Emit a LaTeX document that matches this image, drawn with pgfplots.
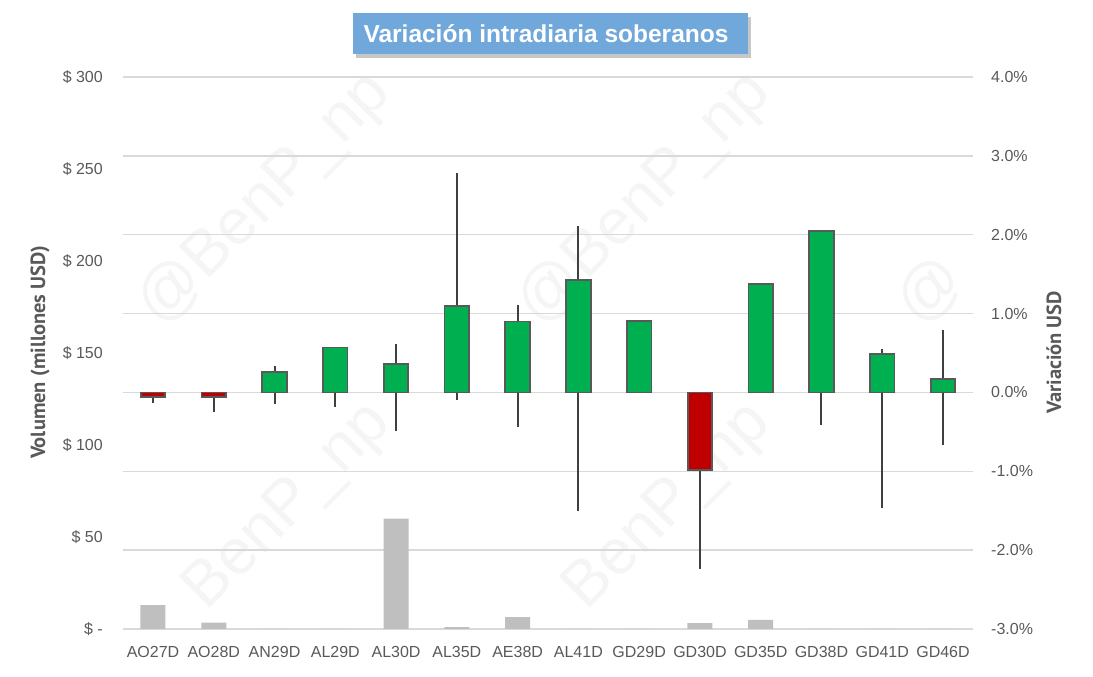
\documentclass[border=0pt]{standalone}
\usepackage{fontspec}
\setmainfont{Liberation Sans}
\newfontfamily\condfont{PT Sans}
\usepackage{pgfplots}
\pgfplotsset{compat=1.18}
\usepackage{pgfplotstable}
\definecolor{tickgray}{HTML}{595959}
\definecolor{gridgray}{HTML}{D9D9D9}
\definecolor{volgray}{HTML}{BFBFBF}
\definecolor{upgreen}{HTML}{00B050}
\definecolor{downred}{HTML}{C00000}
\definecolor{boxedge}{HTML}{595959}
\definecolor{wick}{HTML}{404040}
\definecolor{titleblue}{HTML}{70A8DC}

\pgfplotstableread{
x close high low vol
0 -0.06 0 -0.14 13
1 -0.06 0 -0.25 3.5
2 0.26 0.33 -0.15 0
3 0.57 0.57 -0.19 0
4 0.36 0.61 -0.49 60
5 1.10 2.78 -0.09 1
6 0.90 1.11 -0.44 6.5
7 1.43 2.11 -1.50 0
8 0.91 0.91 0 0
9 -0.98 0 -2.24 3.2
10 1.37 1.39 0 4.9
11 2.05 2.05 -0.41 0
12 0.49 0.55 -1.46 0
13 0.17 0.79 -0.67 0
}\data

\begin{document}
\begin{tikzpicture}
\useasboundingbox (-122.6pt,-48pt) rectangle (970.4pt,629pt);
% watermark
\begin{scope}
\clip (0,0) rectangle (850.8pt,552pt);
\tikzset{wm/.style={rotate=45, anchor=base west, inner sep=0pt, text=black!4, font=\fontsize{64}{64}\selectfont}}
\node[wm] at (38.1pt,301.3pt) {@BenP\_np};
\node[wm] at (418.1pt,301.3pt) {@BenP\_np};
\node[wm] at (798.1pt,301.3pt) {@};
\node[wm] at (84.1pt,17.3pt) {BenP\_np};
\node[wm] at (464.1pt,17.3pt) {BenP\_np};
\end{scope}

\begin{axis}[
 scale only axis, width=850.8pt, height=552pt,
 xmin=-0.5, xmax=13.5, ymin=0, ymax=300,
 axis line style={draw=none}, tick style={draw=none}, major tick length=0pt,
 xtick={0,...,13},
 xticklabels={AO27D,AO28D,AN29D,AL29D,AL30D,AL35D,AE38D,AL41D,GD29D,GD30D,GD35D,GD38D,GD41D,GD46D},
 ytick={0,50,100,150,200,250,300},
 yticklabels={\$ -,\$ 50,\$ 100,\$ 150,\$ 200,\$ 250,\$ 300},
 extra y ticks={0,42.857,85.714,128.571,171.429,214.286,257.143,300},
 extra y tick labels={},
 extra y tick style={grid=major},
 grid style={gridgray, line width=1.3pt},
 every tick label/.append style={font=\fontsize{16}{16}\selectfont, text=tickgray},
 xticklabel style={anchor=center, inner sep=0pt, yshift=-23pt},
 yticklabel style={anchor=east, inner sep=0pt, xshift=-19.6pt},
]
\addplot[ybar, bar width=25pt, fill=volgray, draw=none] table[x=x,y=vol]{\data};
\end{axis}

\begin{axis}[
 scale only axis, width=850.8pt, height=552pt,
 xmin=-0.5, xmax=13.5, ymin=-3, ymax=4,
 axis line style={draw=none}, tick style={draw=none}, major tick length=0pt,
 xtick=\empty, yticklabel pos=right,
 ytick={-3,-2,-1,0,1,2,3,4},
 yticklabels={-3.0\%,-2.0\%,-1.0\%,0.0\%,1.0\%,2.0\%,3.0\%,4.0\%},
 every tick label/.append style={font=\fontsize{16}{16}\selectfont, text=tickgray},
 yticklabel style={anchor=west, inner sep=0pt},
 yticklabel shift=17.6pt,
]
\addplot[draw=none, no markers, forget plot,
  error bars/.cd, y dir=both, y explicit, error mark=none,
  error bar style={draw=wick, line width=2pt}]
  table[x=x, y=close, y error plus expr=\thisrow{high}-\thisrow{close}, y error minus expr=\thisrow{close}-\thisrow{low}]{\data};
\addplot[ybar, bar width=24.5pt, bar shift=0pt, fill=upgreen, draw=boxedge, line width=1.8pt]
 coordinates {(2,0.26)(3,0.57)(4,0.36)(5,1.10)(6,0.90)(7,1.43)(8,0.91)(10,1.37)(11,2.05)(12,0.49)(13,0.17)};
\addplot[ybar, bar width=24.5pt, bar shift=0pt, fill=downred, draw=boxedge, line width=1.8pt]
 coordinates {(0,-0.06)(1,-0.06)(9,-0.98)};
\end{axis}

% axis titles
\node[rotate=90, font=\condfont\bfseries\fontsize{20.5}{20.5}\selectfont, text=tickgray] at (-82.6pt,276.5pt) {Volumen (millones USD)};
\node[rotate=90, font=\condfont\bfseries\fontsize{20.5}{20.5}\selectfont, text=tickgray] at (931.4pt,276.5pt) {Variación USD};

% title
\fill[black, opacity=0.22] (233.4pt,571pt) rectangle (628.4pt,612pt);
\fill[titleblue] (230.4pt,575pt) rectangle (625.4pt,616pt);
\node[text=white, font=\bfseries\fontsize{24.5}{24.5}\selectfont] at (423.4pt,595.5pt) {Variación intradiaria soberanos};
\end{tikzpicture}
\end{document}
